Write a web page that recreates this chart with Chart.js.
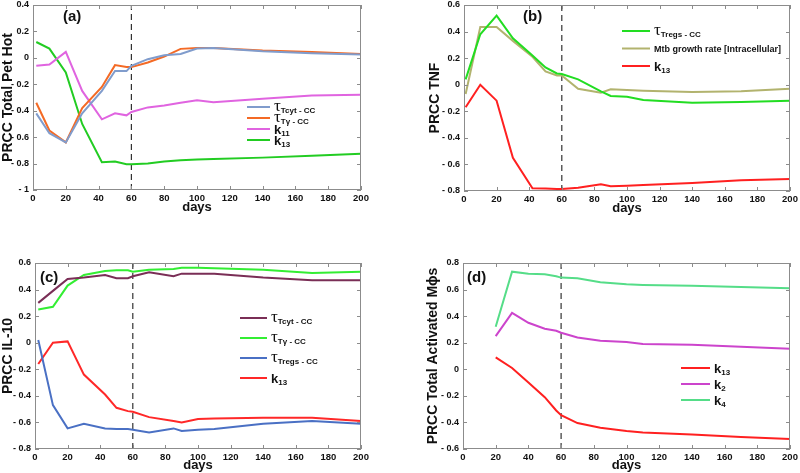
<!DOCTYPE html>
<html>
<head>
<meta charset="utf-8">
<script src="https://cdn.jsdelivr.net/npm/chart.js@4.4.1/dist/chart.umd.min.js"></script>
<style>
  body { margin: 0; background: #fff; width: 800px; height: 473px; overflow: hidden; position: relative; }
  canvas { position: absolute; }
</style>
</head>
<body>
<canvas id="pa" width="400" height="236" style="left:0;top:0"></canvas>
<canvas id="pb" width="400" height="236" style="left:400px;top:0"></canvas>
<canvas id="pc" width="400" height="237" style="left:0;top:236px"></canvas>
<canvas id="pd" width="400" height="237" style="left:400px;top:236px"></canvas>
<script>
// day where the dashed marker sits
const markDay = 60;
const xTicks = [0, 200, 20];

// (a) PRCC Total Pet Hot
const daysA = [2, 10, 20, 30, 42, 50, 57, 60, 70, 80, 90, 100, 110, 140, 170, 200];
const tcytA = [-0.42, -0.57, -0.64, -0.42, -0.25, -0.10, -0.10, -0.06, -0.01, 0.02, 0.03, 0.07, 0.075, 0.05, 0.035, 0.025];
const tgA   = [-0.34, -0.55, -0.64, -0.38, -0.22, -0.055, -0.07, -0.07, -0.035, 0.01, 0.068, 0.075, 0.075, 0.055, 0.045, 0.03];
const k11A  = [-0.06, -0.05, 0.045, -0.25, -0.465, -0.42, -0.435, -0.41, -0.375, -0.36, -0.34, -0.32, -0.335, -0.31, -0.285, -0.28];
const k13A  = [0.12, 0.07, -0.11, -0.5, -0.79, -0.785, -0.805, -0.805, -0.80, -0.785, -0.775, -0.77, -0.765, -0.755, -0.74, -0.725];
const yA = [-1, 0.4, 0.2];

// (b) PRCC TNF
const daysB  = [1, 10, 20, 30, 42, 50, 57, 60, 70, 84, 90, 100, 110, 140, 170, 200];
const tregsB = [0.04, 0.38, 0.52, 0.35, 0.22, 0.13, 0.085, 0.08, 0.04, -0.05, -0.085, -0.09, -0.115, -0.135, -0.13, -0.12];
const mtbB   = [-0.07, 0.435, 0.435, 0.33, 0.21, 0.10, 0.07, 0.07, -0.03, -0.06, -0.035, -0.04, -0.045, -0.055, -0.05, -0.03];
const k13B   = [-0.17, 0.0, -0.12, -0.55, -0.78, -0.782, -0.785, -0.785, -0.775, -0.75, -0.765, -0.76, -0.755, -0.74, -0.72, -0.71];
const yB = [-0.8, 0.6, 0.2];

// (c) PRCC IL-10
const daysC  = [2, 11, 20, 30, 43, 50, 57, 60, 70, 85, 90, 100, 110, 140, 170, 200];
const tcytC  = [0.30, 0.39, 0.48, 0.49, 0.51, 0.485, 0.485, 0.50, 0.53, 0.50, 0.52, 0.52, 0.52, 0.49, 0.47, 0.47];
const tgC    = [0.25, 0.27, 0.43, 0.51, 0.54, 0.545, 0.545, 0.535, 0.55, 0.555, 0.565, 0.565, 0.56, 0.55, 0.525, 0.535];
const tregsC = [0.02, -0.47, -0.645, -0.61, -0.645, -0.65, -0.65, -0.655, -0.675, -0.645, -0.665, -0.655, -0.65, -0.61, -0.59, -0.61];
const k13C   = [-0.16, 0.0, 0.01, -0.24, -0.39, -0.49, -0.515, -0.52, -0.56, -0.59, -0.6, -0.575, -0.57, -0.565, -0.565, -0.59];
const yC = [-0.8, 0.6, 0.2];

// (d) PRCC Total Activated Mφs
const daysD = [20, 30, 40, 50, 57, 60, 70, 84, 100, 110, 140, 170, 200];
const k13D  = [0.09, 0.01, -0.10, -0.21, -0.31, -0.345, -0.405, -0.44, -0.465, -0.475, -0.49, -0.51, -0.525];
const k2D   = [0.25, 0.425, 0.35, 0.305, 0.29, 0.275, 0.24, 0.215, 0.205, 0.19, 0.185, 0.17, 0.155];
const k4D   = [0.32, 0.735, 0.72, 0.715, 0.70, 0.69, 0.685, 0.655, 0.64, 0.635, 0.628, 0.62, 0.61];
const yD = [-0.6, 0.8, 0.2];

function pts(days, vals) {
  return days.map((d, i) => ({ x: d, y: vals[i] }));
}

function fmt(v) {
  if (Math.abs(v) < 1e-9) return '0';
  let s = Math.abs(v).toFixed(1).replace(/\.0$/, '');
  return v < 0 ? '- ' + s : s;
}

// frame, inward ticks, legend and panel tag
const decor = {
  id: 'decor',
  afterDatasetsDraw(chart, args, o) {
    const { ctx, chartArea: a, scales: { x, y } } = chart;
    ctx.save();
    ctx.strokeStyle = '#8c8c8c';
    ctx.lineWidth = 1;
    ctx.strokeRect(a.left + 0.5, a.top + 0.5, a.width - 1, a.height - 1);
    ctx.beginPath();
    x.ticks.forEach(t => {
      const px = Math.round(x.getPixelForValue(t.value)) + 0.5;
      ctx.moveTo(px, a.bottom); ctx.lineTo(px, a.bottom - 4);
      ctx.moveTo(px, a.top); ctx.lineTo(px, a.top + 4);
    });
    y.ticks.forEach(t => {
      const py = Math.round(y.getPixelForValue(t.value)) + 0.5;
      ctx.moveTo(a.left, py); ctx.lineTo(a.left + 4, py);
      ctx.moveTo(a.right, py); ctx.lineTo(a.right - 4, py);
    });
    ctx.stroke();

    // panel tag
    ctx.fillStyle = '#111';
    ctx.font = 'bold 15px "Liberation Sans", Arial';
    ctx.textBaseline = 'middle';
    ctx.fillText(o.tag, o.tagX, o.tagY);

    // legend
    chart.data.datasets.forEach((ds, i) => {
      if (!ds.key) return;
      const ly = o.ly + i * o.dy;
      ctx.strokeStyle = ds.borderColor;
      ctx.lineWidth = 2;
      ctx.beginPath();
      ctx.moveTo(o.lx, ly); ctx.lineTo(o.lx + o.len, ly);
      ctx.stroke();
      let tx = o.lx + o.len + 4;
      ctx.fillStyle = '#111';
      ctx.textBaseline = 'alphabetic';
      if (ds.key[0] === 'τ') {
        ctx.font = '17px "Liberation Serif", serif';
        ctx.fillText('τ', tx, ly + 4);
        tx += ctx.measureText('τ').width;
        ctx.font = 'bold 8px "Liberation Sans", Arial';
        ctx.fillText(ds.key[1], tx, ly + 6);
      } else if (ds.key[0] === 'k') {
        ctx.font = 'bold 13px "Liberation Sans", Arial';
        ctx.fillText('k', tx, ly + 5);
        tx += ctx.measureText('k').width;
        ctx.font = 'bold 8px "Liberation Sans", Arial';
        ctx.fillText(ds.key[1], tx, ly + 7);
      } else {
        ctx.font = 'bold 9px "Liberation Sans", Arial';
        ctx.fillText(ds.key[0], tx, ly + 3);
      }
    });
    ctx.restore();
  }
};

function line(vals, days, color, key) {
  return {
    data: pts(days, vals), key: key, borderColor: color,
    borderWidth: 2, pointRadius: 0, tension: 0, fill: false
  };
}

function marker(yr) {
  return {
    data: [{ x: markDay, y: yr[0] }, { x: markDay, y: yr[1] }],
    borderColor: '#333', borderWidth: 1.2, borderDash: [6, 4],
    pointRadius: 0, fill: false
  };
}

function makeChart(id, datasets, yr, title, lay, deco) {
  new Chart(document.getElementById(id), {
    type: 'line',
    data: { datasets: datasets },
    options: {
      responsive: false,
      animation: false,
      layout: { padding: lay.pad },
      plugins: { legend: { display: false }, tooltip: { enabled: false }, decor: deco },
      scales: {
        x: {
          type: 'linear', min: xTicks[0], max: xTicks[1],
          grid: { display: false, drawTicks: false }, border: { display: false },
          ticks: { stepSize: xTicks[2], padding: 3, color: '#111', font: { family: '"Liberation Sans", Arial', size: 9.5, weight: 'bold' } },
          title: { display: true, text: 'days', color: '#111', padding: 0, font: { family: '"Liberation Sans", Arial', size: 13, weight: 'bold' } },
          afterFit: s => { s.height = lay.xh; s.paddingLeft = 0; s.paddingRight = 0; }
        },
        y: {
          min: yr[0], max: yr[1],
          grid: { display: false, drawTicks: false }, border: { display: false },
          ticks: { stepSize: yr[2], padding: 4, color: '#111', callback: fmt, font: { family: '"Liberation Sans", Arial', size: 9, weight: 'bold' } },
          title: { display: true, text: title, color: '#111', padding: 0, font: { family: '"Liberation Sans", Arial', size: 14, weight: 'bold' } },
          afterFit: s => { s.width = lay.yw; s.paddingTop = 0; s.paddingBottom = 0; }
        }
      }
    },
    plugins: [decor]
  });
}

makeChart('pa', [
  line(tcytA, daysA, '#809ccc', ['τ', 'Tcyt - CC']),
  line(tgA, daysA, '#f46a25', ['τ', 'Tγ - CC']),
  line(k11A, daysA, '#e064e0', ['k', '11']),
  line(k13A, daysA, '#22cc22', ['k', '13']),
  marker(yA)
], yA, 'PRCC Total Pet Hot',
  { pad: { left: 0, top: 5, right: 39, bottom: 21 }, xh: 25, yw: 33 },
  { tag: '(a)', tagX: 63, tagY: 17, lx: 247, ly: 107, dy: 11, len: 23 });

makeChart('pb', [
  line(tregsB, daysB, '#22dd22', ['τ', 'Tregs - CC']),
  line(mtbB, daysB, '#b2b36e', ['Mtb growth rate [Intracellular]']),
  line(k13B, daysB, '#ff2020', ['k', '13']),
  marker(yB)
], yB, 'PRCC TNF',
  { pad: { left: 27, top: 5, right: 10, bottom: 20 }, xh: 25, yw: 37 },
  { tag: '(b)', tagX: 123, tagY: 17, lx: 222, ly: 31, dy: 17.5, len: 28 });

makeChart('pc', [
  line(tcytC, daysC, '#7a2e56', ['τ', 'Tcyt - CC']),
  line(tgC, daysC, '#33ee33', ['τ', 'Tγ - CC']),
  line(tregsC, daysC, '#4a70c4', ['τ', 'Tregs - CC']),
  line(k13C, daysC, '#ff2828', ['k', '13']),
  marker(yC)
], yC, 'PRCC IL-10',
  { pad: { left: 0, top: 27, right: 39, bottom: 0 }, xh: 24, yw: 35 },
  { tag: '(c)', tagX: 40, tagY: 42, lx: 240, ly: 82, dy: 20, len: 27 });

makeChart('pd', [
  line(k13D, daysD, '#ff2020', ['k', '13']),
  line(k2D, daysD, '#cc44cc', ['k', '2']),
  line(k4D, daysD, '#55dd88', ['k', '4']),
  marker(yD)
], yD, 'PRCC Total Activated Mϕs',
  { pad: { left: 25, top: 27, right: 10, bottom: 0 }, xh: 24, yw: 38 },
  { tag: '(d)', tagX: 67, tagY: 42, lx: 281, ly: 132, dy: 16, len: 29 });
</script>
</body>
</html>
